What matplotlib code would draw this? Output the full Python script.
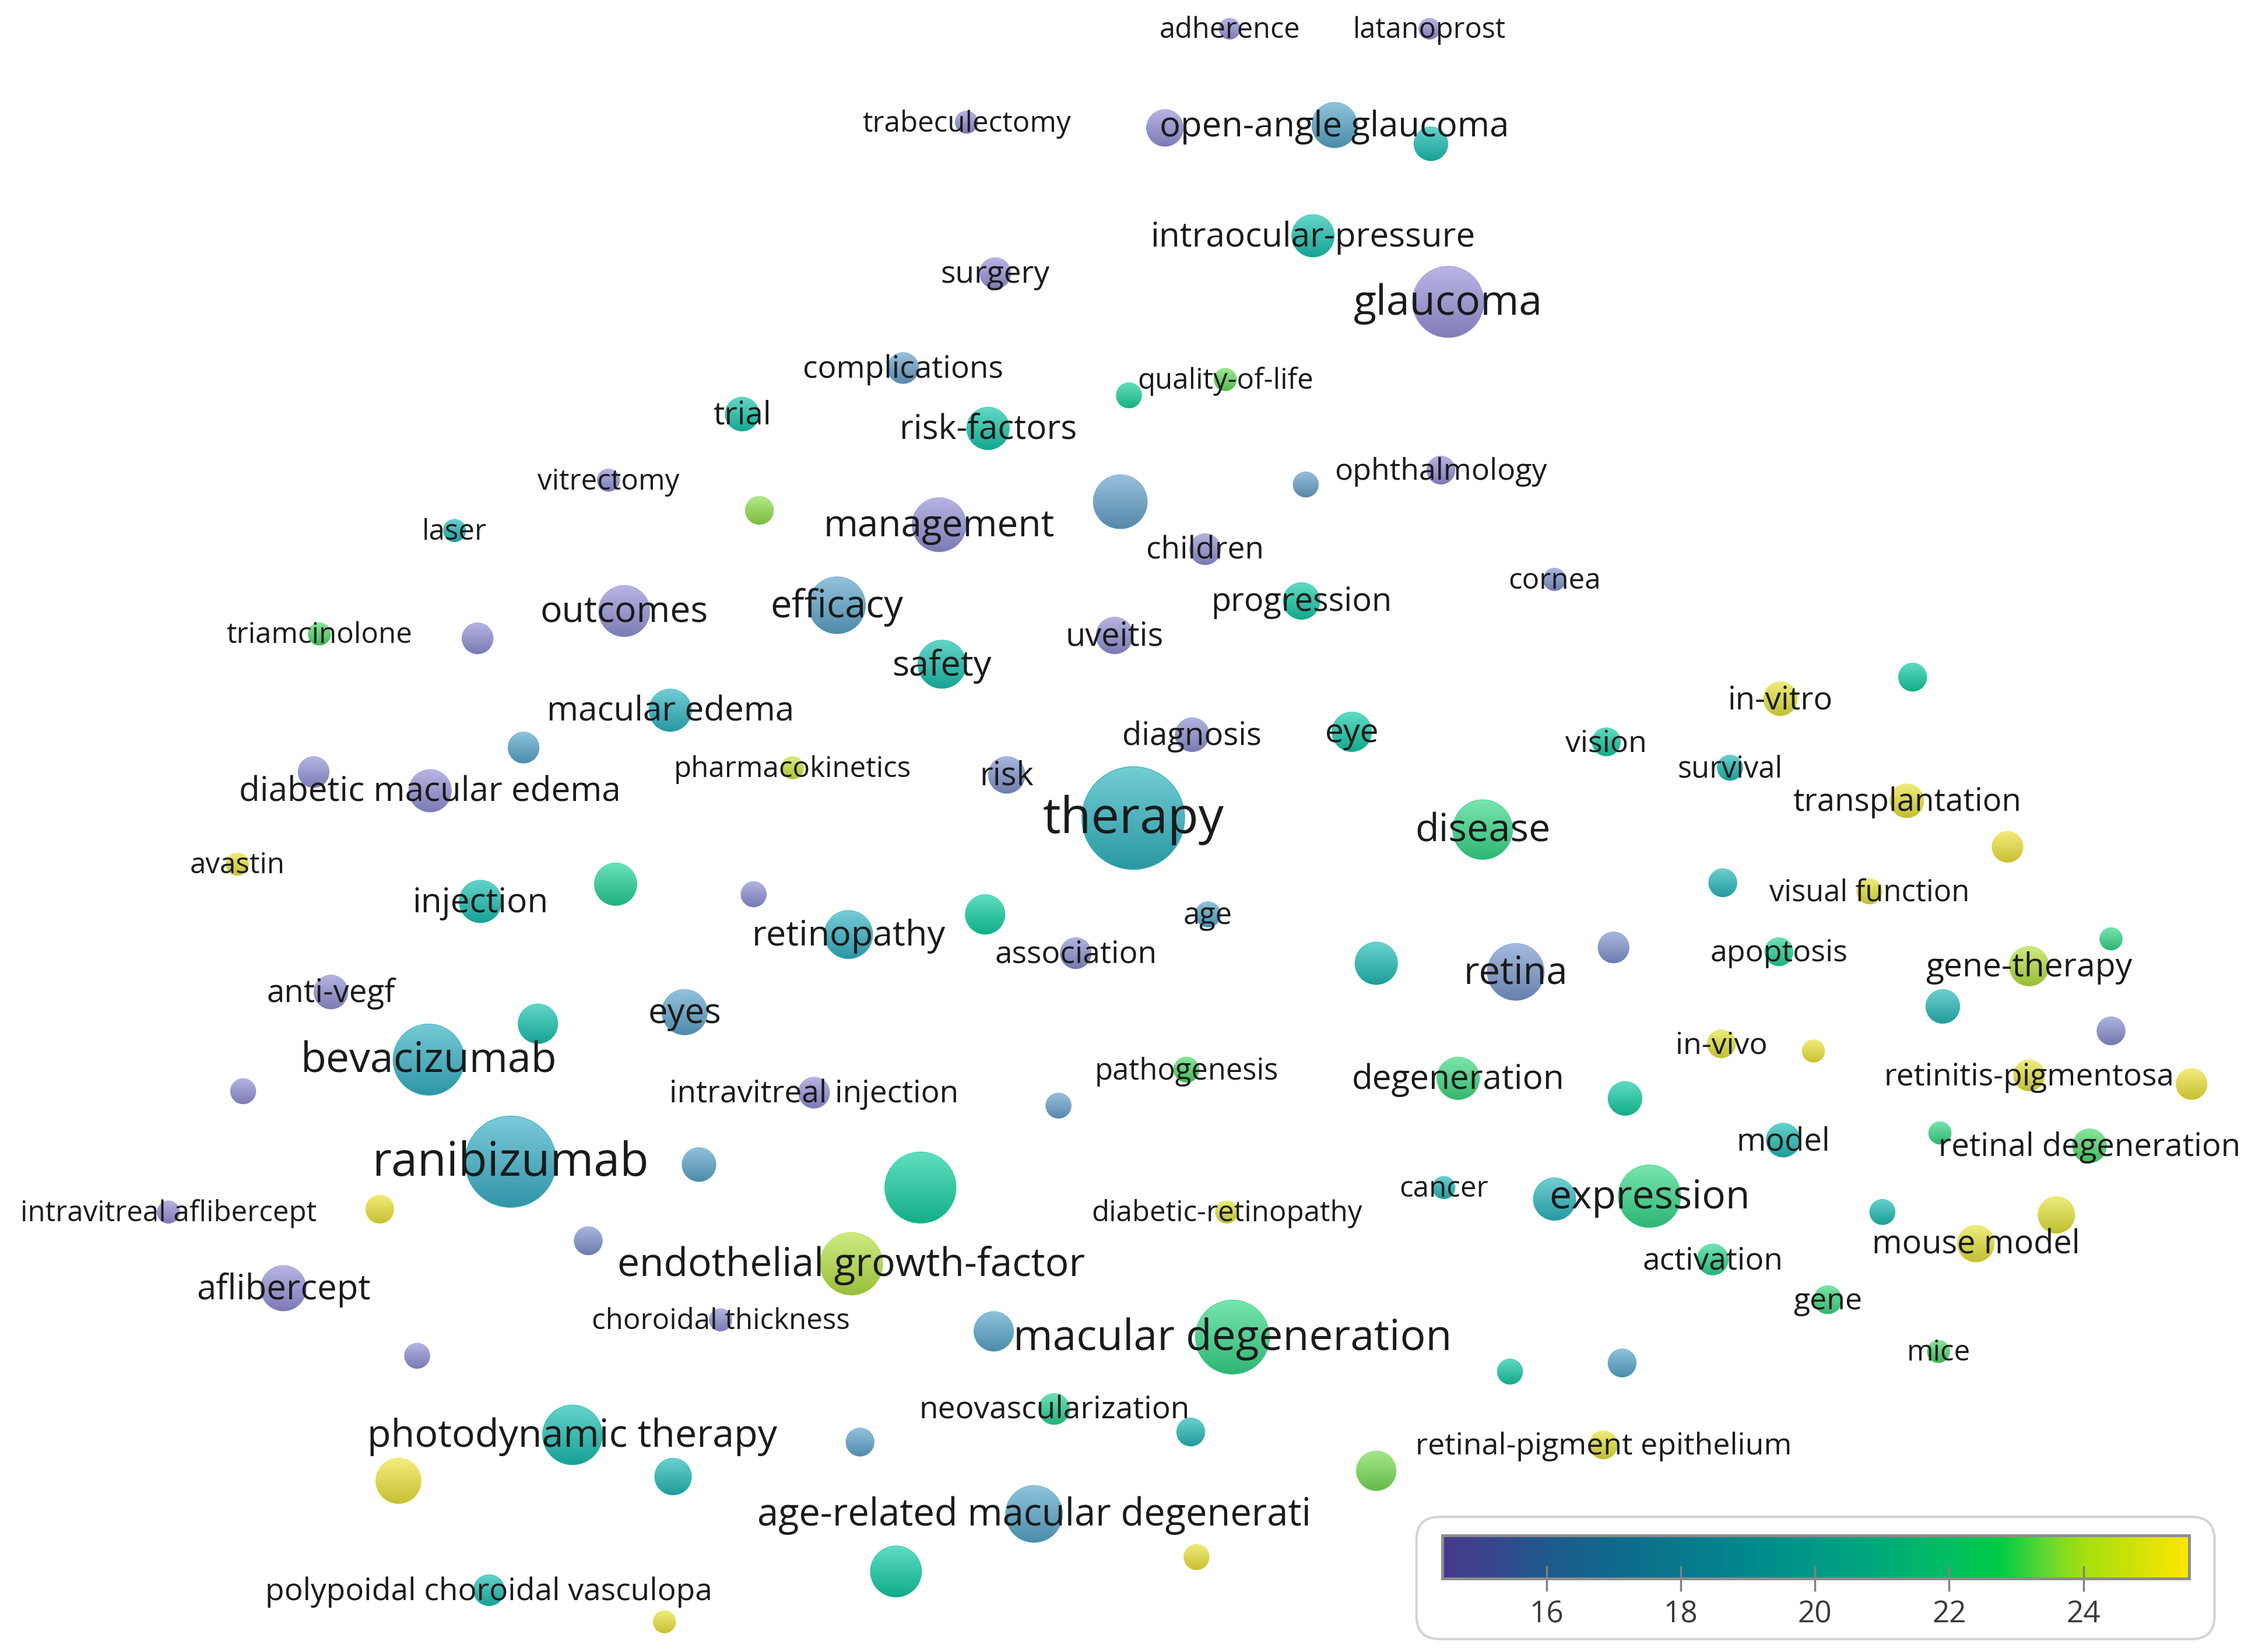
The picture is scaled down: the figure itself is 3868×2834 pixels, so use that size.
import matplotlib.pyplot as plt
import numpy as np

from matplotlib.cm import ScalarMappable
from matplotlib.colors import LinearSegmentedColormap, Normalize, to_rgb
from matplotlib.patches import Circle, FancyBboxPatch

plt.rcParams["font.family"] = ["Open Sans", "DejaVu Sans"]

# Overlay map of keywords (map units = width 1568, height 1149, y going down)
MAP_W, MAP_H = 1568, 1149

labels = [
    "adherence", "latanoprost", "trabeculectomy", "", "open-angle glaucoma", "",
    "intraocular-pressure", "surgery", "glaucoma", "complications", "quality-of-life", "",
    "trial", "risk-factors", "vitrectomy", "", "laser", "",
    "ophthalmology", "", "management", "children", "cornea", "progression",
    "outcomes", "triamcinolone", "", "efficacy", "uveitis", "safety",
    "macular edema", "", "", "diabetic macular edema", "pharmacokinetics", "risk",
    "diagnosis", "eye", "vision", "survival", "in-vitro", "",
    "therapy", "disease", "transplantation", "avastin", "", "",
    "injection", "", "", "visual function", "retinopathy", "",
    "age", "association", "", "retina", "", "apoptosis",
    "", "gene-therapy", "anti-vegf", "", "eyes", "",
    "", "bevacizumab", "in-vivo", "", "", "intravitreal injection",
    "pathogenesis", "", "degeneration", "", "retinitis-pigmentosa", "",
    "model", "", "retinal degeneration", "ranibizumab", "", "",
    "expression", "", "cancer", "intravitreal aflibercept", "", "diabetic-retinopathy",
    "", "", "", "endothelial growth-factor", "activation", "mouse model",
    "aflibercept", "choroidal thickness", "gene", "", "macular degeneration", "",
    "mice", "", "", "neovascularization", "photodynamic therapy", "",
    "", "retinal-pigment epithelium", "", "", "", "age-related macular degenerati",
    "", "", "polypoidal choroidal vasculopa", "",
]

map_x = [
    855, 994, 672, 810, 928, 995,
    913, 692, 1007, 628, 852, 785,
    516, 687, 423, 528, 316, 779,
    1002, 908, 653, 838, 1081, 905,
    434, 222, 332, 582, 775, 655,
    466, 364, 218, 299, 551, 700,
    829, 940, 1117, 1203, 1238, 1330,
    788, 1031, 1326, 165, 428, 524,
    334, 1396, 1198, 1300, 590, 685,
    840, 748, 957, 1054, 1122, 1237,
    1468, 1411, 230, 374, 476, 1351,
    1468, 298, 1197, 1261, 169, 566,
    825, 736, 1014, 1130, 1411, 1524,
    1240, 1349, 1453, 355, 486, 640,
    1147, 1081, 1004, 117, 264, 853,
    1309, 1430, 409, 592, 1191, 1374,
    197, 501, 1271, 691, 857, 290,
    1348, 1050, 1128, 733, 398, 598,
    828, 1115, 957, 277, 468, 719,
    623, 832, 340, 462,
]

map_y = [
    20, 20, 85, 89, 87, 100,
    164, 190, 210, 256, 264, 275,
    288, 298, 334, 355, 369, 349,
    327, 337, 365, 382, 403, 418,
    425, 441, 444, 421, 442, 462,
    494, 520, 537, 550, 534, 539,
    511, 509, 516, 534, 486, 471,
    569, 577, 557, 601, 615, 622,
    627, 589, 614, 620, 650, 636,
    636, 663, 670, 676, 659, 662,
    653, 672, 690, 712, 704, 700,
    717, 737, 726, 731, 759, 760,
    744, 769, 750, 764, 748, 754,
    793, 788, 797, 808, 810, 826,
    832, 834, 826, 843, 841, 843,
    843, 845, 863, 879, 876, 865,
    896, 918, 904, 926, 930, 943,
    940, 954, 948, 980, 998, 1003,
    996, 1005, 1023, 1030, 1027, 1053,
    1093, 1083, 1106, 1128,
]

node_size = [
    7.5, 7.5, 8, 13, 16, 12,
    15, 11, 25, 11, 8, 9,
    12, 15, 8, 10, 8, 19,
    10, 9, 19, 11, 8, 13,
    18, 8, 11, 20, 13, 17,
    15, 11, 11, 15, 8, 13,
    12, 14, 10, 9, 12, 10,
    36, 21, 12, 8, 15, 9,
    15, 11, 10, 9, 17, 14,
    9, 11, 15, 20, 11, 10,
    8, 14, 12, 14, 16, 12,
    10, 25, 10, 8, 9, 11,
    9, 9, 15, 12, 11, 11,
    12, 8, 12, 32, 12, 25,
    22, 15, 8, 8, 10, 8,
    9, 13, 10, 22, 11, 13,
    16, 8, 10, 14, 26, 9,
    8, 9, 10, 11, 21, 10,
    10, 10, 14, 16, 13, 20,
    18, 9, 11, 8,
]

score = [
    14.8, 14.8, 15.0, 14.9, 17.0, 19.0,
    19.2, 14.8, 14.6, 16.5, 23.0, 20.5,
    19.5, 19.6, 15.0, 23.5, 18.5, 16.6,
    14.9, 16.5, 15.0, 15.0, 15.8, 19.8,
    14.9, 22.5, 15.0, 16.8, 15.0, 19.2,
    18.2, 17.0, 15.0, 15.0, 24.3, 15.8,
    15.2, 19.8, 20.0, 18.8, 25.0, 20.0,
    18.2, 21.5, 25.2, 25.3, 20.8, 15.2,
    19.0, 25.3, 18.5, 25.0, 18.0, 20.2,
    17.0, 15.3, 18.8, 16.0, 15.8, 21.0,
    21.5, 24.0, 15.0, 19.3, 16.8, 18.5,
    15.5, 18.0, 25.0, 25.3, 15.0, 15.0,
    22.5, 16.5, 21.8, 20.0, 25.0, 25.3,
    18.8, 21.5, 22.5, 17.8, 16.8, 20.3,
    21.5, 18.3, 18.6, 15.0, 25.3, 24.8,
    18.8, 25.0, 15.8, 24.0, 21.2, 25.0,
    14.9, 15.0, 21.8, 17.0, 21.5, 15.0,
    22.5, 19.8, 17.0, 21.0, 19.0, 16.8,
    18.6, 25.0, 23.2, 25.3, 18.7, 17.0,
    20.0, 25.3, 19.0, 25.3,
]

SCORE_MIN, SCORE_MAX = 14.45, 25.57
bar_ticks = [16, 18, 20, 22, 24]

norm = Normalize(SCORE_MIN, SCORE_MAX)


def stops(pairs):
    return [((v - SCORE_MIN) / (SCORE_MAX - SCORE_MIN), c) for v, c in pairs]


# colours of the legend bar
bar_cmap = LinearSegmentedColormap.from_list("bar", stops([
    (14.45, "#47398c"), (15.3, "#35488e"), (16.0, "#1e5a8c"), (17.0, "#10698c"),
    (18.0, "#08788c"), (19.0, "#00888b"), (20.0, "#009887"), (21.0, "#00aa78"),
    (22.0, "#00bd62"), (22.8, "#00cc44"), (23.5, "#68d830"), (24.0, "#a2df10"),
    (25.57, "#fce600"),
]))

# the nodes are drawn in lighter versions of the same scale
node_cmap = LinearSegmentedColormap.from_list("node", stops([
    (14.45, "#9c94dc"), (15.5, "#8a90d0"), (16.5, "#6aa2cc"), (17.8, "#3cb0c8"),
    (19.0, "#1cbfb2"), (20.2, "#14cfa2"), (21.5, "#38d88a"), (22.8, "#58dc62"),
    (23.6, "#98e04c"), (24.4, "#d4e442"), (25.57, "#f4e43c"),
]))

PT = (3868 / MAP_W) * 72 / 100  # map px -> points

fig = plt.figure(figsize=(38.68, 28.34), dpi=100)
ax = fig.add_axes([0, 0, 1, 1])

ramp = np.linspace(0, 1, 64)[:, None]
for x, y, r, v in zip(map_x, map_y, node_size, score):
    c = np.array(to_rgb(node_cmap(norm(v))))
    top = c + 0.32 * (1 - c)
    bottom = c * 0.84
    img = (top[None, :] * (1 - ramp) + bottom[None, :] * ramp)[:, None, :]
    ax.add_patch(Circle((x, y), r, fc=c, ec="none", zorder=2))
    im = ax.imshow(img, extent=(x - r, x + r, y + r, y - r), origin="upper",
                   interpolation="bilinear", zorder=3)
    im.set_clip_path(Circle((x, y), r * 0.985, transform=ax.transData))

for x, y, r, lab in zip(map_x, map_y, node_size, labels):
    if not lab:
        continue
    em = 15.7 + 0.534 * r
    ax.text(x, y + 1.2, lab, ha="center", va="center", fontsize=em * PT,
            color="#1a1a1a", zorder=5)

# legend box
ax.add_patch(FancyBboxPatch((985, 1055), 555, 85,
                            boxstyle="round,pad=0,rounding_size=16",
                            fc="white", ec="#d4d4d4", lw=3, zorder=6))

ax.set_xlim(0, MAP_W)
ax.set_ylim(MAP_H, 0)
ax.set_aspect("equal")
ax.axis("off")

cax = fig.add_axes([1003 / MAP_W, 1 - 1098 / MAP_H, 519 / MAP_W, 30 / MAP_H])
cax.set_zorder(10)
cb = fig.colorbar(ScalarMappable(norm=norm, cmap=bar_cmap), cax=cax,
                  orientation="horizontal")
cb.set_ticks(bar_ticks)
cb.outline.set_edgecolor("#8c8c8c")
cb.outline.set_linewidth(3.5)
cax.tick_params(direction="inout", length=32, width=2.5, color="#808080",
                labelsize=37, labelcolor="#3a3a3a", pad=10)

fig.savefig("out.png", dpi=100, facecolor="white")
